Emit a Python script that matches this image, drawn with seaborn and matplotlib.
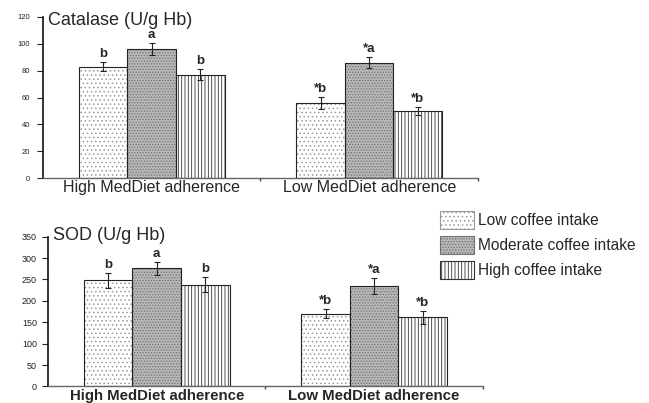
import numpy as np
import pandas as pd
import matplotlib
matplotlib.use('Agg')
import matplotlib.pyplot as plt
from matplotlib.patches import Rectangle, Patch
import seaborn as sns

# data
groups = ['High MedDiet adherence', 'Low MedDiet adherence']
coffee = ['Low coffee intake', 'Moderate coffee intake', 'High coffee intake']

catalase_high = [83, 96, 77]
catalase_low = [56, 86, 50]
catalase_err_high = [3.5, 4.5, 4]
catalase_err_low = [4.5, 4, 3]
catalase_letters_high = ['b', 'a', 'b']
catalase_letters_low = ['*b', '*a', '*b']
catalase_ticks = [0, 20, 40, 60, 80, 100, 120]

sod_high = [248, 276, 238]
sod_low = [170, 235, 162]
sod_err_high = [18, 15, 18]
sod_err_low = [11, 18, 15]
sod_letters_high = ['b', 'a', 'b']
sod_letters_low = ['*b', '*a', '*b']
sod_ticks = [0, 50, 100, 150, 200, 250, 300, 350]

faces = ['white', '#b8b8b8', 'white']
hatches = ['....', '......', '|||||']
hatch_cols = ['#9a9a9a', '#707070', '#333333']

sns.set_style('ticks')
plt.rcParams['font.family'] = ['Liberation Sans', 'DejaVu Sans']
plt.rcParams['hatch.linewidth'] = 0.6


def draw_panel(ax, high, low, err_high, err_low, let_high, let_low, ticks, title,
               tick_size, tick_pad, title_y, label_size, label_weight):
    df = pd.DataFrame({
        'group': np.repeat(groups, 3),
        'coffee': coffee * 2,
        'value': high + low,
        'err': err_high + err_low,
        'letter': let_high + let_low,
    })
    sns.barplot(data=df, x='group', y='value', hue='coffee', order=groups, hue_order=coffee,
                width=0.67, errorbar=None, legend=False, saturation=1,
                palette=dict(zip(coffee, faces)), ax=ax)
    bar_conts = list(ax.containers)
    for i, cont in enumerate(bar_conts):
        for j, bar in enumerate(cont):
            bar.set_hatch(hatches[i])
            bar.set_edgecolor(hatch_cols[i])
            bar.set_linewidth(0)
            ax.add_patch(Rectangle((bar.get_x(), bar.get_y()), bar.get_width(), bar.get_height(),
                                   fill=False, edgecolor='#222222', lw=0.8, zorder=3))
            row = df[(df['group'] == groups[j]) & (df['coffee'] == coffee[i])].iloc[0]
            cx = bar.get_x() + bar.get_width() / 2
            ax.errorbar(cx, row['value'], yerr=row['err'], color='#222222', capsize=2.5,
                        lw=0.8, capthick=0.8, zorder=4)
            ax.annotate(row['letter'], (cx, row['value'] + row['err']), xytext=(0, 1.5),
                        textcoords='offset points', ha='center', va='bottom',
                        fontsize=9.5, fontweight='bold')

    ax.set_xlim(-0.5, 1.5)
    ax.set_ylim(ticks[0], ticks[-1])
    ax.set_yticks(ticks)
    ax.set_xlabel('')
    ax.set_ylabel('')
    sns.despine(ax=ax)
    ax.spines['left'].set_color('#111111')
    ax.spines['left'].set_linewidth(1.2)
    ax.spines['bottom'].set_color('#666666')
    ax.spines['bottom'].set_linewidth(1.0)
    ax.tick_params(axis='y', labelsize=tick_size, length=4, width=0.8, pad=tick_pad,
                   colors='#222222')
    ax.tick_params(axis='x', labelsize=label_size, length=0, pad=1.5)
    for lab in ax.get_xticklabels():
        lab.set_fontweight(label_weight)
    ax.set_xticks([0.5, 1.5], minor=True)
    ax.tick_params(axis='x', which='minor', length=2, width=1, color='#444444')
    ax.text(0.012, title_y, title, transform=ax.transAxes, fontsize=13, va='center', ha='left')


fig = plt.figure(figsize=(6.49, 4.03), dpi=100)
ax1 = fig.add_axes([0.066, 0.558, 0.6705, 0.40])
ax2 = fig.add_axes([0.074, 0.041, 0.670, 0.3717])

draw_panel(ax1, catalase_high, catalase_low, catalase_err_high, catalase_err_low,
           catalase_letters_high, catalase_letters_low, catalase_ticks,
           'Catalase (U/g Hb)', 5.5, 5, 0.975, 11.5, 'normal')
draw_panel(ax2, sod_high, sod_low, sod_err_high, sod_err_low,
           sod_letters_high, sod_letters_low, sod_ticks,
           'SOD (U/g Hb)', 6.5, 4, 1.01, 10.8, 'bold')

handles = [Patch(facecolor=faces[i], hatch=hatches[i], edgecolor=hatch_cols[i], lw=0.8)
           for i in range(3)]
fig.legend(handles, coffee, loc='upper left', bbox_to_anchor=(0.678, 0.476), frameon=False,
           fontsize=11.2, handlelength=2.2, handleheight=1.4, handletextpad=0.25,
           labelspacing=0.45, borderpad=0, borderaxespad=0)

fig.savefig('out.png', dpi=100)
